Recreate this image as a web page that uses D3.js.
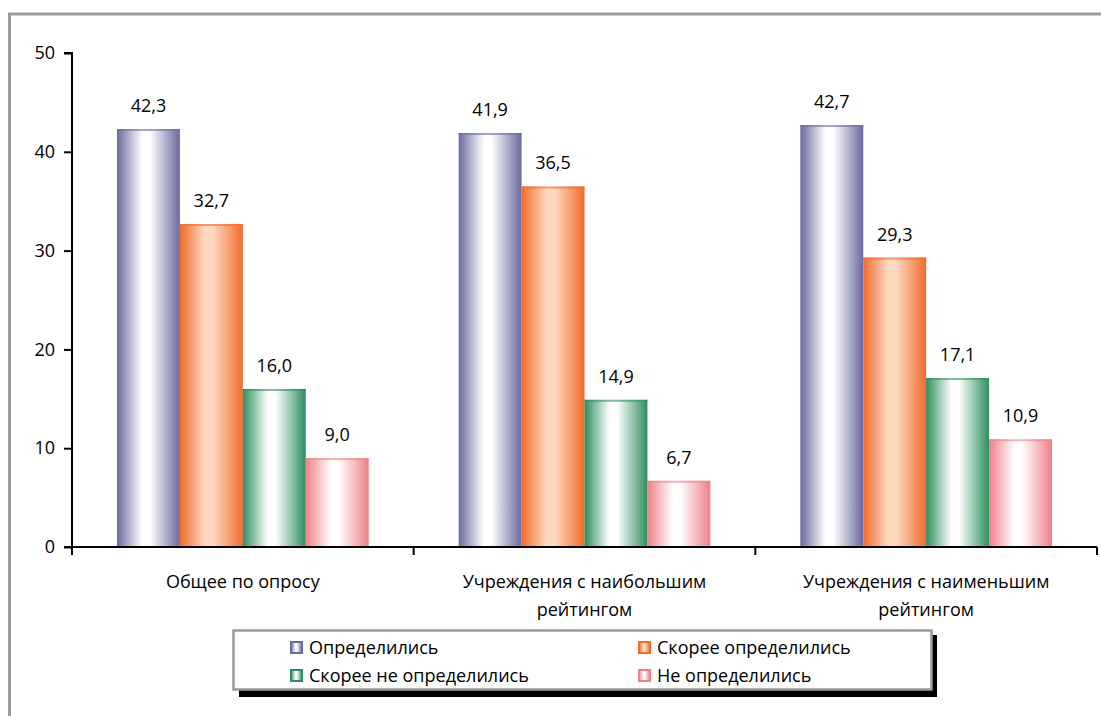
<!DOCTYPE html>
<html><head><meta charset="utf-8">
<script src="https://cdn.jsdelivr.net/npm/d3@7"></script>
<style>body{margin:0;background:#fff;}svg{display:block;font-family:"Open Sans",sans-serif;}</style>
</head><body><svg id="c" width="1101" height="716"></svg>
<script>
const categories = [["Общее по опросу"], ["Учреждения с наибольшим", "рейтингом"], ["Учреждения с наименьшим", "рейтингом"]];
const seriesNames = ["Определились", "Скорее определились", "Скорее не определились", "Не определились"];
const values = [
  [42.3, 32.7, 16.0, 9.0],
  [41.9, 36.5, 14.9, 6.7],
  [42.7, 29.3, 17.1, 10.9]
];
const yTicks = [0, 10, 20, 30, 40, 50];
const edgeColors = ["#6A6A9E", "#F26B2A", "#2E8E5E", "#EE8088"];
const centerColors = ["#FFFFFF", "#FDD9C2", "#FFFFFF", "#FFFFFF"];
const FS = 18;

const svg = d3.select("#c");
const defs = svg.append("defs");
edgeColors.forEach((c, i) => {
  const g = defs.append("linearGradient").attr("id", "g" + i).attr("x1", "0").attr("x2", "1").attr("y1", "0").attr("y2", "0");
  g.append("stop").attr("offset", "0").attr("stop-color", c);
  g.append("stop").attr("offset", "0.4").attr("stop-color", centerColors[i]);
  g.append("stop").attr("offset", "0.52").attr("stop-color", centerColors[i]);
  g.append("stop").attr("offset", "1").attr("stop-color", c);
});

// frame
svg.append("path").attr("d", "M9.5,716 V14 H1101").attr("fill", "none").attr("stroke", "#9a9a9a").attr("stroke-width", 3);

const x0 = d3.scaleBand().domain(d3.range(categories.length)).range([72, 1097]).paddingInner(0).paddingOuter(0);
const x1 = d3.scaleBand().domain(d3.range(seriesNames.length)).range([45, x0.bandwidth() - 45]);
const y = d3.scaleLinear().domain([0, 50]).range([547, 53]);

// bars
const groups = svg.append("g").selectAll("g").data(values).join("g")
  .attr("transform", (d, i) => `translate(${x0(i)},0)`);
groups.selectAll("rect").data(d => d).join("rect")
  .attr("x", (d, j) => x1(j)).attr("width", x1.bandwidth())
  .attr("y", d => y(d)).attr("height", d => y(0) - y(d))
  .attr("fill", (d, j) => `url(#g${j})`);
groups.selectAll("line.top").data(d => d).join("line").attr("class", "top")
  .attr("x1", (d, j) => x1(j)).attr("x2", (d, j) => x1(j) + x1.bandwidth())
  .attr("y1", d => y(d) + 1).attr("y2", d => y(d) + 1)
  .attr("stroke", (d, j) => edgeColors[j]).attr("stroke-opacity", 0.6).attr("stroke-width", 2);
groups.selectAll("text").data(d => d).join("text")
  .attr("x", (d, j) => x1(j) + x1.bandwidth() / 2)
  .attr("y", d => y(d) - 17)
  .attr("text-anchor", "middle").attr("font-size", FS).attr("fill", "#000")
  .text(d => d3.format(".1f")(d).replace(".", ","));

// y axis
const yAxis = svg.append("g").attr("transform", "translate(72,0)")
  .call(d3.axisLeft(y).tickValues(yTicks).tickSize(8).tickPadding(9).tickFormat(d3.format("d")));
yAxis.select(".domain").attr("stroke", "#000").attr("stroke-width", 2).attr("d", "M-8,53H0V547H-8");
yAxis.selectAll(".tick line").attr("stroke", "#000").attr("stroke-width", 2);
yAxis.selectAll(".tick text").attr("font-size", FS).attr("font-family", "Open Sans, sans-serif").attr("fill", "#000");

// x axis
const xAxisG = svg.append("g");
xAxisG.append("line").attr("x1", 72).attr("x2", 1097).attr("y1", 547).attr("y2", 547).attr("stroke", "#000").attr("stroke-width", 2);
const boundaries = d3.range(categories.length + 1).map(i => i < categories.length ? x0(i) : x0(i - 1) + x0.bandwidth());
xAxisG.selectAll("line.t").data(boundaries).join("line").attr("class", "t")
  .attr("x1", d => d).attr("x2", d => d).attr("y1", 547).attr("y2", 555).attr("stroke", "#000").attr("stroke-width", 2);
const labels = xAxisG.selectAll("text").data(categories).join("text")
  .attr("x", (d, i) => x0(i) + x0.bandwidth() / 2).attr("y", 587.5)
  .attr("text-anchor", "middle").attr("font-size", FS).attr("fill", "#000");
labels.selectAll("tspan").data(d => d).join("tspan")
  .attr("x", function () { return this.parentNode.getAttribute("x"); })
  .attr("dy", (d, k) => k === 0 ? 0 : 28.5).text(d => d);

// legend
const lg = svg.append("g");
lg.append("rect").attr("x", 239).attr("y", 635).attr("width", 698).attr("height", 62).attr("fill", "#000");
lg.append("rect").attr("x", 233.5).attr("y", 630.5).attr("width", 698).attr("height", 59).attr("fill", "#fff").attr("stroke", "#9a9a9a").attr("stroke-width", 2.5);
const legPos = [[290, 647], [638, 647], [290, 675], [638, 675]];
const items = lg.selectAll("g.item").data(seriesNames).join("g").attr("class", "item")
  .attr("transform", (d, i) => `translate(${legPos[i][0]},${legPos[i][1]})`);
items.append("rect").attr("x", 1).attr("y", -5).attr("width", 11).attr("height", 11)
  .attr("fill", (d, i) => `url(#g${i})`).attr("stroke", (d, i) => edgeColors[i]).attr("stroke-width", 2);
items.append("text").attr("x", 19).attr("y", 6.5).attr("font-size", FS).attr("fill", "#000").text(d => d);
</script></body></html>
